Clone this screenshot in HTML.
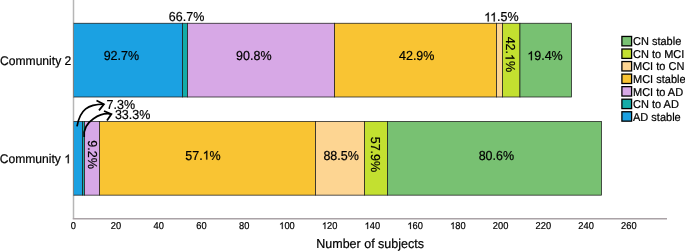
<!DOCTYPE html>
<html><head><meta charset="utf-8"><style>
html,body{margin:0;padding:0;background:#fff;}
body{width:685px;height:251px;overflow:hidden;font-family:"Liberation Sans",sans-serif;}
svg{display:block;will-change:transform;}
text{fill:#000;text-rendering:geometricPrecision;font-kerning:normal;stroke:#000;stroke-width:0.2px;}
.g1{fill:#000;stroke:#000;stroke-width:0.2px;vector-effect:non-scaling-stroke;}
</style></head><body>
<svg width="685" height="251" viewBox="0 0 685 251" font-family="Liberation Sans, sans-serif">
<rect width="685" height="251" fill="#fff"/>
<line x1="73.5" y1="0" x2="73.5" y2="218.75" stroke="#b6b6b6" stroke-width="1.5"/>
<line x1="72.75" y1="218.75" x2="667" y2="218.75" stroke="#aaa2a6" stroke-width="1.5"/>
<rect x="73.50" y="23.25" width="109.00" height="73.75" fill="#1BA1E2" stroke="#1c1c1c" stroke-width="0.75"/>
<rect x="182.50" y="23.25" width="5.00" height="73.75" fill="#14ACA8" stroke="#1c1c1c" stroke-width="0.75"/>
<rect x="187.50" y="23.25" width="147.00" height="73.75" fill="#D7A8E6" stroke="#1c1c1c" stroke-width="0.75"/>
<rect x="334.50" y="23.25" width="162.00" height="73.75" fill="#F9C433" stroke="#1c1c1c" stroke-width="0.75"/>
<rect x="496.50" y="23.25" width="6.00" height="73.75" fill="#FDD592" stroke="#1c1c1c" stroke-width="0.75"/>
<rect x="502.50" y="23.25" width="17.45" height="73.75" fill="#C3E030" stroke="#1c1c1c" stroke-width="0.75"/>
<rect x="519.95" y="23.25" width="51.55" height="73.75" fill="#78C172" stroke="#1c1c1c" stroke-width="0.75"/>
<rect x="73.50" y="121.45" width="9.00" height="73.70" fill="#1BA1E2" stroke="#1c1c1c" stroke-width="0.75"/>
<rect x="82.50" y="121.45" width="2.00" height="73.70" fill="#14ACA8" stroke="#1c1c1c" stroke-width="0.75"/>
<rect x="84.50" y="121.45" width="15.00" height="73.70" fill="#D7A8E6" stroke="#1c1c1c" stroke-width="0.75"/>
<rect x="99.50" y="121.45" width="216.00" height="73.70" fill="#F9C433" stroke="#1c1c1c" stroke-width="0.75"/>
<rect x="315.50" y="121.45" width="49.00" height="73.70" fill="#FDD592" stroke="#1c1c1c" stroke-width="0.75"/>
<rect x="364.50" y="121.45" width="23.00" height="73.70" fill="#C3E030" stroke="#1c1c1c" stroke-width="0.75"/>
<rect x="387.50" y="121.45" width="214.00" height="73.70" fill="#78C172" stroke="#1c1c1c" stroke-width="0.75"/>
<line x1="73.5" y1="22.75" x2="73.5" y2="97.50" stroke="#b6b6b6" stroke-opacity="0.55" stroke-width="1"/>
<line x1="73.5" y1="120.95" x2="73.5" y2="195.65" stroke="#b6b6b6" stroke-opacity="0.55" stroke-width="1"/>
<g transform="translate(121.35,60.20) scale(1.0,1.04)"><text x="-17.722" y="0" font-size="12.5">92.7%</text></g>
<g transform="translate(253.80,60.20) scale(1.0,1.04)"><text x="-17.722" y="0" font-size="12.5">90.8%</text></g>
<g transform="translate(416.70,60.20) scale(1.0,1.04)"><text x="-17.722" y="0" font-size="12.5">42.9%</text></g>
<g transform="translate(545.00,60.20) scale(1.0,1.04)"><text x="-17.722" y="0" font-size="12.5"><tspan style="fill:none;stroke:none">1</tspan>9.4%</text><path class="g1" transform="translate(-17.722,0) scale(0.006104,-0.006104)" d="M763 0H583V1102Q518 1043 412.5 983Q307 924 223 894V1061Q374 1129 487 1226Q600 1323 647 1409H763Z"/></g>
<g transform="translate(510.20,54.35) rotate(90) translate(0,4.62) scale(1.0,1.04)"><text x="-17.722" y="0" font-size="12.5">42.<tspan style="fill:none;stroke:none">1</tspan>%</text><path class="g1" transform="translate(-0.345,0) scale(0.006104,-0.006104)" d="M763 0H583V1102Q518 1043 412.5 983Q307 924 223 894V1061Q374 1129 487 1226Q600 1323 647 1409H763Z"/></g>
<g transform="translate(186.55,21.45) scale(1.0,1.04)"><text x="-17.722" y="0" font-size="12.5">66.7%</text></g>
<g transform="translate(501.35,21.45) scale(1.0,1.04)"><text x="-17.258" y="0" font-size="12.5"><tspan style="fill:none;stroke:none">1</tspan><tspan style="fill:none;stroke:none">1</tspan>.5%</text><path class="g1" transform="translate(-17.258,0) scale(0.006104,-0.006104)" d="M763 0H583V1102Q518 1043 412.5 983Q307 924 223 894V1061Q374 1129 487 1226Q600 1323 647 1409H763Z"/><path class="g1" transform="translate(-11.234,0) scale(0.006104,-0.006104)" d="M763 0H583V1102Q518 1043 412.5 983Q307 924 223 894V1061Q374 1129 487 1226Q600 1323 647 1409H763Z"/></g>
<g transform="translate(120.85,108.50) scale(1.0,1.04)"><text x="-14.246" y="0" font-size="12.5">7.3%</text></g>
<g transform="translate(132.60,119.40) scale(1.0,1.04)"><text x="-17.722" y="0" font-size="12.5">33.3%</text></g>
<g transform="translate(92.40,154.50) rotate(90) translate(0,4.62) scale(1.0,1.04)"><text x="-14.246" y="0" font-size="12.5">9.2%</text></g>
<g transform="translate(203.00,159.60) scale(1.0,1.04)"><text x="-17.722" y="0" font-size="12.5">57.<tspan style="fill:none;stroke:none">1</tspan>%</text><path class="g1" transform="translate(-0.345,0) scale(0.006104,-0.006104)" d="M763 0H583V1102Q518 1043 412.5 983Q307 924 223 894V1061Q374 1129 487 1226Q600 1323 647 1409H763Z"/></g>
<g transform="translate(341.10,159.60) scale(1.0,1.04)"><text x="-17.722" y="0" font-size="12.5">88.5%</text></g>
<g transform="translate(375.40,154.40) rotate(90) translate(0,4.62) scale(1.0,1.04)"><text x="-17.722" y="0" font-size="12.5">57.9%</text></g>
<g transform="translate(496.35,160.20) scale(1.0,1.04)"><text x="-17.722" y="0" font-size="12.5">80.6%</text></g>

<path d="M77,126.3 C80.27,109.02 88.06,104.52 103.6,104.2" fill="none" stroke="#000" stroke-width="1.75"/>
<path d="M96.5,100.5 L103.9,104.2 L99,110.4" fill="none" stroke="#000" stroke-width="1.75" stroke-linejoin="miter"/>
<path d="M84.2,137 C82.26,120.56 101.81,112.24 111.1,114.1" fill="none" stroke="#000" stroke-width="1.75"/>
<path d="M104,111 L111.4,114.1 L107,120.4" fill="none" stroke="#000" stroke-width="1.75" stroke-linejoin="miter"/>

<g transform="translate(73.30,229.00) scale(0.97,1.04)"><text x="-2.670" y="0" font-size="9.6">0</text></g>
<g transform="translate(116.03,229.00) scale(0.97,1.04)"><text x="-5.339" y="0" font-size="9.6">20</text></g>
<g transform="translate(158.76,229.00) scale(0.97,1.04)"><text x="-5.339" y="0" font-size="9.6">40</text></g>
<g transform="translate(201.50,229.00) scale(0.97,1.04)"><text x="-5.339" y="0" font-size="9.6">60</text></g>
<g transform="translate(244.23,229.00) scale(0.97,1.04)"><text x="-5.339" y="0" font-size="9.6">80</text></g>
<g transform="translate(286.96,229.00) scale(0.97,1.04)"><text x="-8.009" y="0" font-size="9.6"><tspan style="fill:none;stroke:none">1</tspan>00</text><path class="g1" transform="translate(-8.009,0) scale(0.004687,-0.004687)" d="M763 0H583V1102Q518 1043 412.5 983Q307 924 223 894V1061Q374 1129 487 1226Q600 1323 647 1409H763Z"/></g>
<g transform="translate(329.69,229.00) scale(0.97,1.04)"><text x="-8.009" y="0" font-size="9.6"><tspan style="fill:none;stroke:none">1</tspan>20</text><path class="g1" transform="translate(-8.009,0) scale(0.004687,-0.004687)" d="M763 0H583V1102Q518 1043 412.5 983Q307 924 223 894V1061Q374 1129 487 1226Q600 1323 647 1409H763Z"/></g>
<g transform="translate(372.42,229.00) scale(0.97,1.04)"><text x="-8.009" y="0" font-size="9.6"><tspan style="fill:none;stroke:none">1</tspan>40</text><path class="g1" transform="translate(-8.009,0) scale(0.004687,-0.004687)" d="M763 0H583V1102Q518 1043 412.5 983Q307 924 223 894V1061Q374 1129 487 1226Q600 1323 647 1409H763Z"/></g>
<g transform="translate(415.16,229.00) scale(0.97,1.04)"><text x="-8.009" y="0" font-size="9.6"><tspan style="fill:none;stroke:none">1</tspan>60</text><path class="g1" transform="translate(-8.009,0) scale(0.004687,-0.004687)" d="M763 0H583V1102Q518 1043 412.5 983Q307 924 223 894V1061Q374 1129 487 1226Q600 1323 647 1409H763Z"/></g>
<g transform="translate(457.89,229.00) scale(0.97,1.04)"><text x="-8.009" y="0" font-size="9.6"><tspan style="fill:none;stroke:none">1</tspan>80</text><path class="g1" transform="translate(-8.009,0) scale(0.004687,-0.004687)" d="M763 0H583V1102Q518 1043 412.5 983Q307 924 223 894V1061Q374 1129 487 1226Q600 1323 647 1409H763Z"/></g>
<g transform="translate(500.62,229.00) scale(0.97,1.04)"><text x="-8.009" y="0" font-size="9.6">200</text></g>
<g transform="translate(543.35,229.00) scale(0.97,1.04)"><text x="-8.009" y="0" font-size="9.6">220</text></g>
<g transform="translate(586.08,229.00) scale(0.97,1.04)"><text x="-8.009" y="0" font-size="9.6">240</text></g>
<g transform="translate(628.82,229.00) scale(0.97,1.04)"><text x="-8.009" y="0" font-size="9.6">260</text></g>
<g transform="translate(370.10,247.90) scale(1.0,1.04)"><text x="-53.842" y="0" font-size="12.5">Number of subjects</text></g>
<g transform="translate(71.30,65.00) scale(1.0,1.04)"><text x="-71.277" y="0" font-size="12.1">Community 2</text></g>
<g transform="translate(71.00,163.20) scale(1.0,1.04)"><text x="-71.277" y="0" font-size="12.1">Community <tspan style="fill:none;stroke:none">1</tspan></text><path class="g1" transform="translate(-6.729,0) scale(0.005908,-0.005908)" d="M763 0H583V1102Q518 1043 412.5 983Q307 924 223 894V1061Q374 1129 487 1226Q600 1323 647 1409H763Z"/></g>
<rect x="621.9" y="36.45" width="9.7" height="9.4" fill="#78C172" stroke="#000" stroke-width="1.3"/>
<g transform="translate(633.00,45.30) scale(1.0,1.04)"><text x="0.000" y="0" font-size="11">CN stable</text></g>
<rect x="621.9" y="49.00" width="9.7" height="9.4" fill="#C3E030" stroke="#000" stroke-width="1.3"/>
<g transform="translate(633.00,57.85) scale(1.0,1.04)"><text x="0.000" y="0" font-size="11">CN to MCI</text></g>
<rect x="621.9" y="61.55" width="9.7" height="9.4" fill="#FDD592" stroke="#000" stroke-width="1.3"/>
<g transform="translate(633.00,70.40) scale(1.0,1.04)"><text x="0.000" y="0" font-size="11">MCI to CN</text></g>
<rect x="621.9" y="74.10" width="9.7" height="9.4" fill="#F9C433" stroke="#000" stroke-width="1.3"/>
<g transform="translate(633.00,82.95) scale(1.0,1.04)"><text x="0.000" y="0" font-size="11">MCI stable</text></g>
<rect x="621.9" y="86.65" width="9.7" height="9.4" fill="#D7A8E6" stroke="#000" stroke-width="1.3"/>
<g transform="translate(633.00,95.50) scale(1.0,1.04)"><text x="0.000" y="0" font-size="11">MCI to AD</text></g>
<rect x="621.9" y="99.20" width="9.7" height="9.4" fill="#14ACA8" stroke="#000" stroke-width="1.3"/>
<g transform="translate(633.00,108.05) scale(1.0,1.04)"><text x="0.000" y="0" font-size="11">CN to AD</text></g>
<rect x="621.9" y="111.75" width="9.7" height="9.4" fill="#1BA1E2" stroke="#000" stroke-width="1.3"/>
<g transform="translate(633.00,120.60) scale(1.0,1.04)"><text x="0.000" y="0" font-size="11">AD stable</text></g>
</svg>
</body></html>
